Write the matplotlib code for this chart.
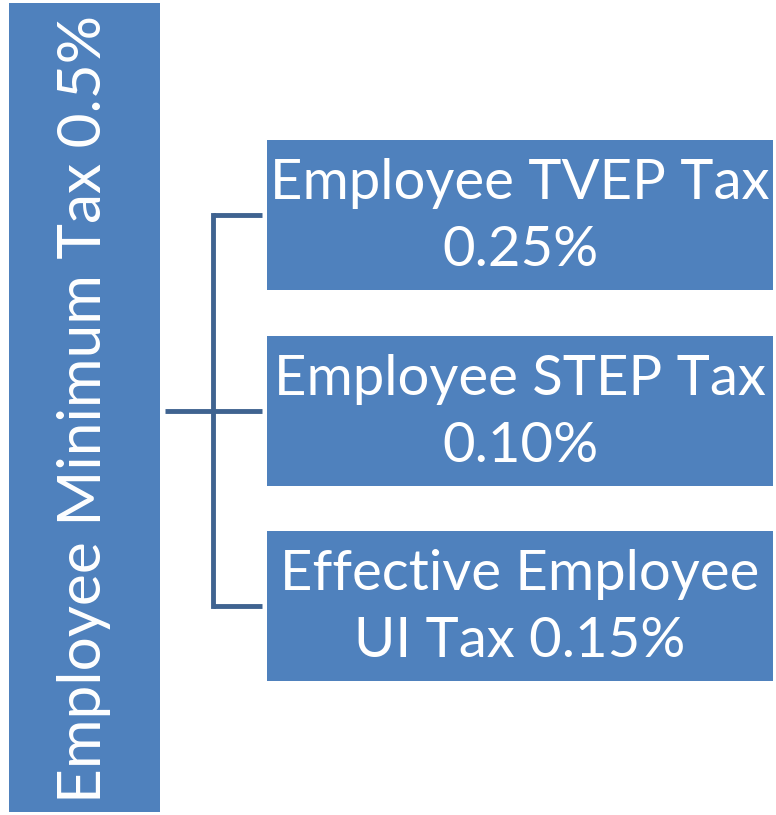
import matplotlib.pyplot as plt
from matplotlib.patches import Rectangle

# chart content
root_label = "Employee Minimum Tax 0.5%"
child_labels = ["Employee TVEP Tax\n0.25%",
                "Employee STEP Tax\n0.10%",
                "Effective Employee\nUI Tax 0.15%"]

box_color = '#4F81BD'
line_color = '#3F6390'

W, H = 776, 815
fig = plt.figure(figsize=(W / 100, H / 100), dpi=100)
ax = fig.add_axes([0, 0, 1, 1])
ax.set_xlim(0, W)
ax.set_ylim(H, 0)
ax.axis('off')

# root box (vertical)
ax.add_patch(Rectangle((9, 3), 151, 809, facecolor=box_color, edgecolor='none'))
ax.text(84, 409, root_label, rotation=90, ha='center', va='center',
        color='white', fontsize=43.5, family='Lato')

# child boxes
tops = [140, 336, 531]
bh = 150
mids = []
for top, lab in zip(tops, child_labels):
    ax.add_patch(Rectangle((267, top), 506, bh, facecolor=box_color, edgecolor='none'))
    mid = top + bh / 2
    mids.append(mid)
    ax.text(520, mid + 2, lab, ha='center', va='center', color='white',
            fontsize=40.5, family='Lato', linespacing=1.38)

# connectors
lw = 3.5
ax.plot([165, 213], [411, 411], color=line_color, lw=lw, solid_capstyle='butt')
ax.plot([213, 213], [mids[0], mids[-1]], color=line_color, lw=lw, solid_capstyle='projecting')
for m in mids:
    ax.plot([213, 262], [m, m], color=line_color, lw=lw, solid_capstyle='butt')

plt.savefig('out.png', dpi=100)
